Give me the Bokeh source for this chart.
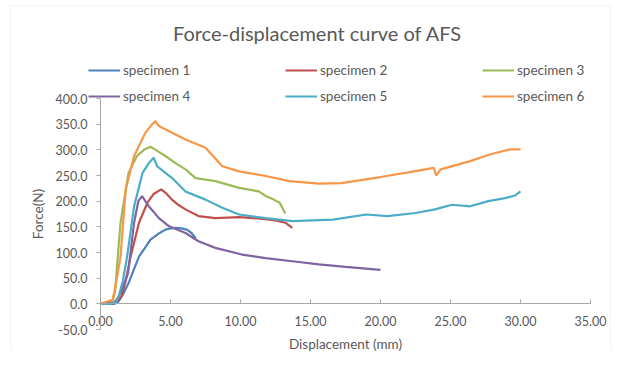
from bokeh.plotting import figure
from bokeh.models import Range1d, FixedTicker, NumeralTickFormatter, Legend, LegendItem, Label, BoxAnnotation
from bokeh.embed import file_html
from bokeh.resources import INLINE

# ---- data ----
names = ["specimen 1", "specimen 2", "specimen 3", "specimen 4", "specimen 5", "specimen 6"]
colors = ["#4F81BD", "#C0504D", "#9BBB59", "#8064A2", "#4BACC6", "#F79646"]

x1 = [0, 1.0, 1.3, 1.6, 2.0, 2.4, 2.75, 3.2, 3.57, 4.1, 4.64, 5.0, 5.36, 5.8, 6.2, 6.5, 6.8]
y1 = [0, 0, 5, 18, 40, 68, 92, 110, 125, 136, 144.5, 147, 148, 147, 144, 138, 128]

x2 = [0, 1.0, 1.3, 1.5, 1.8, 2.15, 2.75, 3.35, 3.8, 4.33, 4.7, 5.1, 5.6, 6.07, 7.0, 8.2, 9.9, 11.8, 12.6, 13.2, 13.7]
y2 = [0, 2, 8, 15, 45, 92, 158, 197, 214, 223, 215, 203, 192, 184, 171, 167, 169, 165, 162, 158, 148]

x3 = [0, 0.5, 0.9, 1.05, 1.2, 1.43, 2.0, 2.6, 3.1, 3.57, 4.0, 4.64, 5.3, 6.07, 6.79, 8.2, 9.9, 11.3, 11.8, 12.3, 12.8, 13.2]
y3 = [0, 3, 8, 25, 80, 158, 255, 288, 300, 306, 299, 288, 275, 262, 245, 239, 226, 219, 210, 204, 197, 176]

x4 = [0, 1.0, 1.2, 1.5, 1.97, 2.4, 2.7, 2.97, 3.45, 4.17, 4.9, 6.07, 7.0, 8.2, 10.1, 11.8, 13.7, 15.6, 17.5, 20.0]
y4 = [0, 3, 10, 25, 60, 158, 200, 210, 190, 167, 151, 138, 122, 109, 96, 89, 83, 77, 72, 66]

x5 = [0, 0.6, 1.1, 1.3, 1.6, 1.9, 2.4, 3.0, 3.5, 3.8, 4.05, 4.5, 5.1, 6.07, 7.5, 8.7, 9.9, 11.8, 13.7, 15.6, 16.6, 19.0, 20.5, 22.5, 23.9, 25.1, 26.4, 27.7, 28.9, 29.6, 30.0]
y5 = [0, 0, 3, 15, 45, 92, 190, 255, 276, 284.5, 268, 258, 245.5, 219, 203, 187, 174, 167, 161, 163, 164, 174, 171, 177, 184, 193, 190, 200, 206, 211, 219]

x6 = [0, 0.3, 0.86, 1.0, 1.2, 1.43, 1.8, 2.4, 3.2, 3.7, 3.93, 4.1, 4.4, 6.07, 7.5, 8.7, 9.9, 11.8, 13.5, 15.6, 17.2, 20.0, 22.4, 23.8, 23.97, 24.3, 26.4, 27.8, 29.3, 30.0]
y6 = [0, 3, 8, 25, 55, 92, 223, 288, 333, 350, 356, 348, 343, 320, 304, 268, 258, 249, 239, 234, 235, 247, 258, 265, 250, 262, 278, 291, 301, 301]

xs = [x1, x2, x3, x4, x5, x6]
ys = [y1, y2, y3, y4, y5, y6]

x_ticks = [0, 5, 10, 15, 20, 25, 30, 35]
y_ticks = [-50, 0, 50, 100, 150, 200, 250, 300, 350, 400]

title_text = "Force-displacement curve of AFS"
x_label = "Displacement (mm)"
y_label = "Force(N)"

FONT = "Lato"
GRAY = "#595959"
AXIS = "#A6A6A6"

# ---- layout: the frame fills the whole canvas; axes are drawn at fixed locations ----
W, H = 611, 351
X0_PX, X35_PX = 100.0, 590.0       # canvas pixel of x=0 and x=35
Y400_PX, YM50_PX = 98.0, 329.0     # canvas pixel (from top) of y=400 and y=-50
xs_per_px = 35.0 / (X35_PX - X0_PX)
ys_per_px = 450.0 / (YM50_PX - Y400_PX)
x_start = 0 - X0_PX * xs_per_px
x_end = x_start + W * xs_per_px
y_end = 400 + Y400_PX * ys_per_px
y_start = y_end - H * ys_per_px

p = figure(width=W, height=H, output_backend="svg", toolbar_location=None,
           x_range=Range1d(x_start, x_end), y_range=Range1d(y_start, y_end),
           min_border=0)
p.grid.visible = False
p.outline_line_color = None
p.background_fill_color = "white"
p.border_fill_color = "white"

# light chart-area border (its lower edge lies below the visible canvas)
p.add_layout(BoxAnnotation(left=x_start + 10 * xs_per_px, right=x_end - 1 * xs_per_px,
                           top=y_end - 5 * ys_per_px, bottom=y_start - 10 * ys_per_px,
                           fill_alpha=0, line_color="#D9D9D9", line_width=1))

# axes
p.xaxis.fixed_location = 0
p.xaxis.bounds = (0, 35)
p.xaxis.ticker = FixedTicker(ticks=x_ticks)
p.xaxis.formatter = NumeralTickFormatter(format="0.00")
p.xaxis.major_tick_in = 4
p.xaxis.major_tick_out = 0
p.xaxis.minor_tick_line_color = None
p.xaxis.major_label_standoff = 12

p.yaxis.fixed_location = 0
p.yaxis.bounds = (-50, 400)
p.yaxis.ticker = FixedTicker(ticks=y_ticks)
p.yaxis.formatter = NumeralTickFormatter(format="0.0")
p.yaxis.major_tick_in = 0
p.yaxis.major_tick_out = 4
p.yaxis.minor_tick_line_color = None
p.yaxis.major_label_standoff = 9
p.yaxis.axis_label = y_label
p.yaxis.axis_label_standoff = 7
p.yaxis.axis_label_text_font = FONT
p.yaxis.axis_label_text_font_style = "normal"
p.yaxis.axis_label_text_font_size = "13.5px"
p.yaxis.axis_label_text_color = GRAY

for ax in (p.xaxis, p.yaxis):
    ax.axis_line_color = AXIS
    ax.major_tick_line_color = AXIS
    ax.major_label_text_font = FONT
    ax.major_label_text_font_size = "12.5px"
    ax.major_label_text_color = GRAY

renderers = []
for xv, yv, c in zip(xs, ys, colors):
    r = p.line(xv, yv, line_color=c, line_width=2.2)
    renderers.append(r)

legend = Legend(items=[LegendItem(label=n, renderers=[r]) for n, r in zip(names, renderers)],
                location=(88, 242), orientation="horizontal", ncols=3, nrows=2,
                glyph_width=32, glyph_height=26, label_height=26, label_width=162,
                label_standoff=3, spacing=0, padding=0, margin=0,
                border_line_color=None, background_fill_alpha=0,
                label_text_font=FONT, label_text_font_size="13.5px", label_text_color=GRAY)
p.add_layout(legend)

p.add_layout(Label(x=15.5, y=528, text=title_text, text_align="center", text_baseline="middle",
                   text_font=FONT, text_font_size="20px", text_color=GRAY))
p.add_layout(Label(x=17.5, y=-78, text=x_label, text_align="center", text_baseline="middle",
                   text_font=FONT, text_font_size="13.5px", text_color=GRAY))

open("out.html", "w").write(file_html(p, INLINE))
